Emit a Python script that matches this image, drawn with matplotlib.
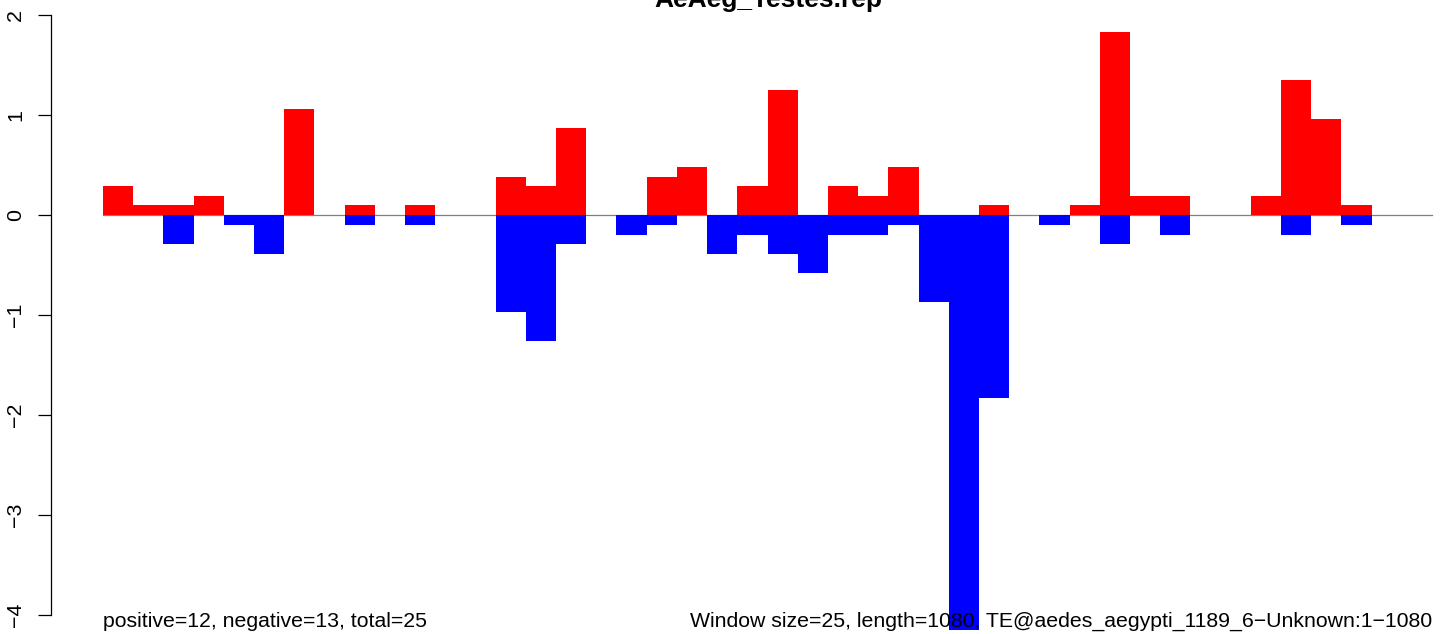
import numpy as np
import matplotlib
matplotlib.use("Agg")
import matplotlib.pyplot as plt
import matplotlib.transforms as mtransforms

plt.rcParams['font.family'] = ['Liberation Sans', 'DejaVu Sans']

# --- Data: one bar per 25 bp window ---
window = 25
positive = [0.29, 0.10, 0.10, 0.19, 0, 0, 1.06, 0, 0.10, 0, 0.10, 0, 0,
            0.38, 0.29, 0.87, 0, 0, 0.38, 0.48, 0, 0.29, 1.25, 0, 0.29, 0.19,
            0.48, 0, 0, 0.10, 0, 0, 0.10, 1.83, 0.19, 0.19, 0, 0, 0.19, 1.35,
            0.96, 0.10, 0, 0]
negative = [0, 0, 0.29, 0, 0.10, 0.39, 0, 0, 0.10, 0, 0.10, 0, 0,
            0.97, 1.26, 0.29, 0, 0.20, 0.10, 0, 0.39, 0.20, 0.39, 0.58, 0.20, 0.20,
            0.10, 0.87, 4.15, 1.83, 0, 0.10, 0, 0.29, 0, 0.20, 0, 0, 0, 0.20,
            0, 0.10, 0, 0]
y_ticks = [-4, -3, -2, -1, 0, 1, 2]
title = "AeAeg_Testes.rep"
left_note = "positive=12, negative=13, total=25"
right_note = "Window size=25, length=1080, TE@aedes_aegypti_1189_6\u2212Unknown:1\u22121080"

n = len(positive)
starts = np.arange(n) * window
x_end = n * window

W, H = 1444, 634
fig = plt.figure(figsize=(W / 100, H / 100), dpi=100)
ax = fig.add_axes([51 / W, 0, 1 - 51 / W, 1])

# pixel mapping: bar 0 starts at px 103, pitch 30.2 px; y=0 at px 215, 100 px per unit
px_per_bp = 30.2 / window
ax.set_xlim(-(103 - 51) / px_per_bp, x_end + (W - 1432) / px_per_bp)
ax.set_ylim(-(H - 215) / 100, 215 / 100)

ax.plot([0, x_end], [0, 0], color="#808080", lw=0.9, zorder=1)
ax.bar(starts, positive, width=window, align="edge", color="#FF0000", linewidth=0, zorder=2)
ax.bar(starts, [-v for v in negative], width=window, align="edge", color="#0000FF", linewidth=0, zorder=2)

for s in ["top", "right", "bottom"]:
    ax.spines[s].set_visible(False)
ax.spines["left"].set_bounds(y_ticks[0], y_ticks[-1])
ax.spines["left"].set_linewidth(0.9)
ax.set_xticks([])
ax.set_yticks(y_ticks)
ax.set_yticklabels([str(t).replace("-", "\u2212") for t in y_ticks], rotation=90, va="center")
ax.tick_params(axis="y", length=9.5, width=0.9, pad=9, labelsize=15.4)

# title sits mostly above the top edge, as in the original
fig.text(768 / W, 1 - 7 / H, title, ha="center", va="baseline", fontsize=19, fontweight="bold")

trans = mtransforms.blended_transform_factory(ax.transData, fig.transFigure)
ax.text(0, 1 - 627 / H, left_note, transform=trans, ha="left", va="baseline", fontsize=15.3)
ax.text(x_end, 1 - 627 / H, right_note, transform=trans, ha="right", va="baseline", fontsize=15.3, zorder=3)

fig.savefig("out.png", dpi=100)
